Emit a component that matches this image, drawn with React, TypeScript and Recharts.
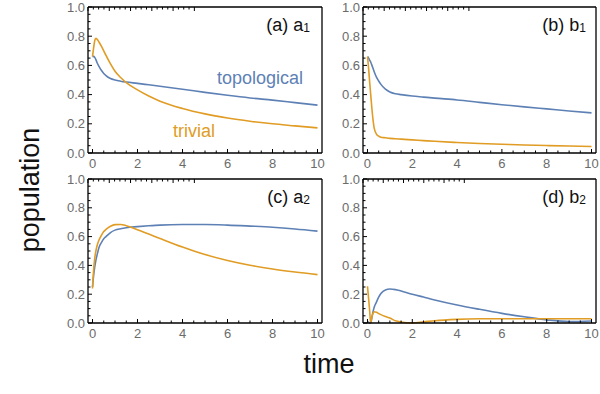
import { Line, LineChart, XAxis, YAxis } from "recharts"

// time grids (panels a-c share one, d needs finer sampling near 0)
const tGrid = [0, 0.05, 0.1, 0.15, 0.2, 0.3, 0.4, 0.5, 0.6, 0.8, 1, 1.25, 1.5, 2, 2.5, 3, 4, 5, 6, 7, 8, 9, 10]
const tGridD = [0, 0.05, 0.1, 0.14, 0.2, 0.25, 0.3, 0.4, 0.5, 0.6, 0.8, 1, 1.25, 1.5, 2, 2.5, 3, 4, 5, 6, 7, 8, 9, 10]

const topoA = [0.66, 0.662, 0.655, 0.64, 0.62, 0.59, 0.565, 0.545, 0.53, 0.51, 0.5, 0.492, 0.486, 0.477, 0.467, 0.457, 0.437, 0.415, 0.395, 0.377, 0.362, 0.345, 0.328]
const trivA = [0.66, 0.72, 0.77, 0.785, 0.78, 0.757, 0.73, 0.7, 0.668, 0.61, 0.56, 0.517, 0.482, 0.432, 0.39, 0.355, 0.305, 0.268, 0.24, 0.218, 0.2, 0.186, 0.172]

const topoB = [0.66, 0.65, 0.635, 0.62, 0.6, 0.557, 0.52, 0.493, 0.47, 0.437, 0.418, 0.406, 0.4, 0.39, 0.383, 0.376, 0.363, 0.347, 0.331, 0.316, 0.302, 0.288, 0.275]
const trivB = [0.66, 0.58, 0.48, 0.39, 0.3, 0.17, 0.13, 0.115, 0.108, 0.104, 0.1, 0.098, 0.095, 0.09, 0.085, 0.08, 0.072, 0.065, 0.06, 0.055, 0.051, 0.048, 0.045]

const topoC = [0.25, 0.33, 0.39, 0.435, 0.47, 0.53, 0.56, 0.585, 0.6, 0.628, 0.645, 0.655, 0.662, 0.669, 0.675, 0.68, 0.684, 0.684, 0.68, 0.673, 0.665, 0.653, 0.638]
const trivC = [0.24, 0.37, 0.45, 0.5, 0.535, 0.58, 0.61, 0.635, 0.65, 0.672, 0.683, 0.684, 0.676, 0.648, 0.618, 0.587, 0.527, 0.475, 0.434, 0.401, 0.375, 0.354, 0.336]

const topoD = [0.01, 0.005, 0.0, 0.0, 0.04, 0.08, 0.11, 0.145, 0.18, 0.205, 0.23, 0.236, 0.232, 0.222, 0.2, 0.18, 0.16, 0.125, 0.095, 0.067, 0.043, 0.022, 0.01, 0.014]
const trivD = [0.255, 0.17, 0.08, 0.0, 0.045, 0.068, 0.078, 0.074, 0.066, 0.058, 0.045, 0.035, 0.015, 0.007, 0.001, 0.008, 0.016, 0.025, 0.029, 0.03, 0.03, 0.03, 0.03, 0.03]

const xTicks = [0, 0.5, 1, 1.5, 2, 2.5, 3, 3.5, 4, 4.5, 5, 5.5, 6, 6.5, 7, 7.5, 8, 8.5, 9, 9.5, 10]
const yTicks = [0, 0.05, 0.1, 0.15, 0.2, 0.25, 0.3, 0.35, 0.4, 0.45, 0.5, 0.55, 0.6, 0.65, 0.7, 0.75, 0.8, 0.85, 0.9, 0.95, 1]

const BLUE = "#5E81B5"
const ORANGE = "#E09C24"
const FONT = "'Liberation Sans', Arial, sans-serif"

const build = (t: number[], topo: number[], triv: number[]) =>
  t.map((v, i) => ({ t: v, topo: topo[i], triv: triv[i] }))

const panels = [
  { key: "a", data: build(tGrid, topoA, trivA), left: 88, top: 7, w: 234, h: 146 },
  { key: "b", data: build(tGrid, topoB, trivB), left: 363, top: 7, w: 233, h: 146 },
  { key: "c", data: build(tGrid, topoC, trivC), left: 88, top: 179, w: 234, h: 144 },
  { key: "d", data: build(tGridD, topoD, trivD), left: 363, top: 179, w: 233, h: 144 },
]

const isMajorX = (v: number) => Math.abs(v / 2 - Math.round(v / 2)) < 1e-6
const isMajorY = (v: number) => Math.abs(v * 5 - Math.round(v * 5)) < 1e-6

const labelStyle = { fill: "#6b6b6b", fontSize: 13, fontFamily: FONT }

function BottomTick(props: any) {
  const { x, y, payload } = props
  const major = isMajorX(payload.value)
  return (
    <g>
      <line x1={x} x2={x} y1={y} y2={y - (major ? 4 : 2.5)} stroke="#000" strokeWidth={1} />
      {major && (
        <text x={x} y={y + 15} textAnchor="middle" {...labelStyle}>
          {payload.value}
        </text>
      )}
    </g>
  )
}

function TopTick(props: any) {
  const { x, y, payload } = props
  const major = isMajorX(payload.value)
  return <line x1={x} x2={x} y1={y} y2={y + (major ? 4 : 2.5)} stroke="#000" strokeWidth={1} />
}

function LeftTick(props: any) {
  const { x, y, payload } = props
  const major = isMajorY(payload.value)
  return (
    <g>
      <line x1={x} x2={x + (major ? 4 : 2.5)} y1={y} y2={y} stroke="#000" strokeWidth={1} />
      {major && (
        <text x={x - 3} y={y + 4.5} textAnchor="end" {...labelStyle}>
          {payload.value.toFixed(1)}
        </text>
      )}
    </g>
  )
}

function RightTick(props: any) {
  const { x, y, payload } = props
  const major = isMajorY(payload.value)
  return <line x1={x} x2={x - (major ? 4 : 2.5)} y1={y} y2={y} stroke="#000" strokeWidth={1} />
}

const M = { top: 10, right: 3, bottom: 24, left: 40 }
const axisLine = { stroke: "#000", strokeWidth: 1.3 }

function Panel({ p }: { p: (typeof panels)[number] }) {
  return (
    <div style={{ position: "absolute", left: p.left - M.left - 1, top: p.top - M.top - 1 }}>
      <LineChart width={p.w + M.left + M.right + 2} height={p.h + M.top + M.bottom + 2} data={p.data} margin={M}>
        <XAxis xAxisId="b" dataKey="t" type="number" domain={[-0.2, 10.2]} ticks={xTicks} interval={0}
          height={1} tickSize={0} tickMargin={0} tickLine={false} axisLine={axisLine} tick={BottomTick} />
        <XAxis xAxisId="t" orientation="top" type="number" domain={[-0.2, 10.2]} ticks={xTicks} interval={0}
          height={1} tickSize={0} tickMargin={0} tickLine={false} axisLine={axisLine} tick={TopTick} />
        <YAxis yAxisId="l" type="number" domain={[0, 1]} ticks={yTicks} interval={0}
          width={1} tickSize={0} tickMargin={0} tickLine={false} axisLine={axisLine} tick={LeftTick} />
        <YAxis yAxisId="r" orientation="right" type="number" domain={[0, 1]} ticks={yTicks} interval={0}
          width={1} tickSize={0} tickMargin={0} tickLine={false} axisLine={axisLine} tick={RightTick} />
        <Line xAxisId="b" yAxisId="l" type="monotone" dataKey="topo" stroke={BLUE} strokeWidth={1.6} dot={false} isAnimationActive={false} />
        <Line xAxisId="b" yAxisId="l" type="monotone" dataKey="triv" stroke={ORANGE} strokeWidth={1.6} dot={false} isAnimationActive={false} />
      </LineChart>
    </div>
  )
}

const tags = [
  { main: "(a) a", sub: "1", x: 310, y: 31 },
  { main: "(b) b", sub: "1", x: 586, y: 31 },
  { main: "(c) a", sub: "2", x: 310, y: 203 },
  { main: "(d) b", sub: "2", x: 586, y: 203 },
]

export default function App() {
  return (
    <div style={{ position: "absolute", left: 0, top: 0, width: 600, height: 394, background: "#fff" }}>
      {panels.map((p) => (
        <Panel key={p.key} p={p} />
      ))}
      <svg width={600} height={394} style={{ position: "absolute", left: 0, top: 0, pointerEvents: "none" }}>
        {tags.map((g) => (
          <text key={g.main + g.sub} x={g.x} y={g.y} textAnchor="end" fontSize={18} fontFamily={FONT} fill="#111">
            {g.main}
            <tspan fontSize={12} dy={1}>{g.sub}</tspan>
          </text>
        ))}
        <text x={217} y={84} fontSize={18} fontFamily={FONT} fill={BLUE}>topological</text>
        <text x={173} y={137} fontSize={18} fontFamily={FONT} fill={ORANGE}>trivial</text>
        <text x={39} y={190} fontSize={27} fontFamily={FONT} fill="#111" textAnchor="middle" transform="rotate(-90 39 190)">
          population
        </text>
        <text x={329} y={373} fontSize={27} fontFamily={FONT} fill="#111" textAnchor="middle">time</text>
      </svg>
    </div>
  )
}
